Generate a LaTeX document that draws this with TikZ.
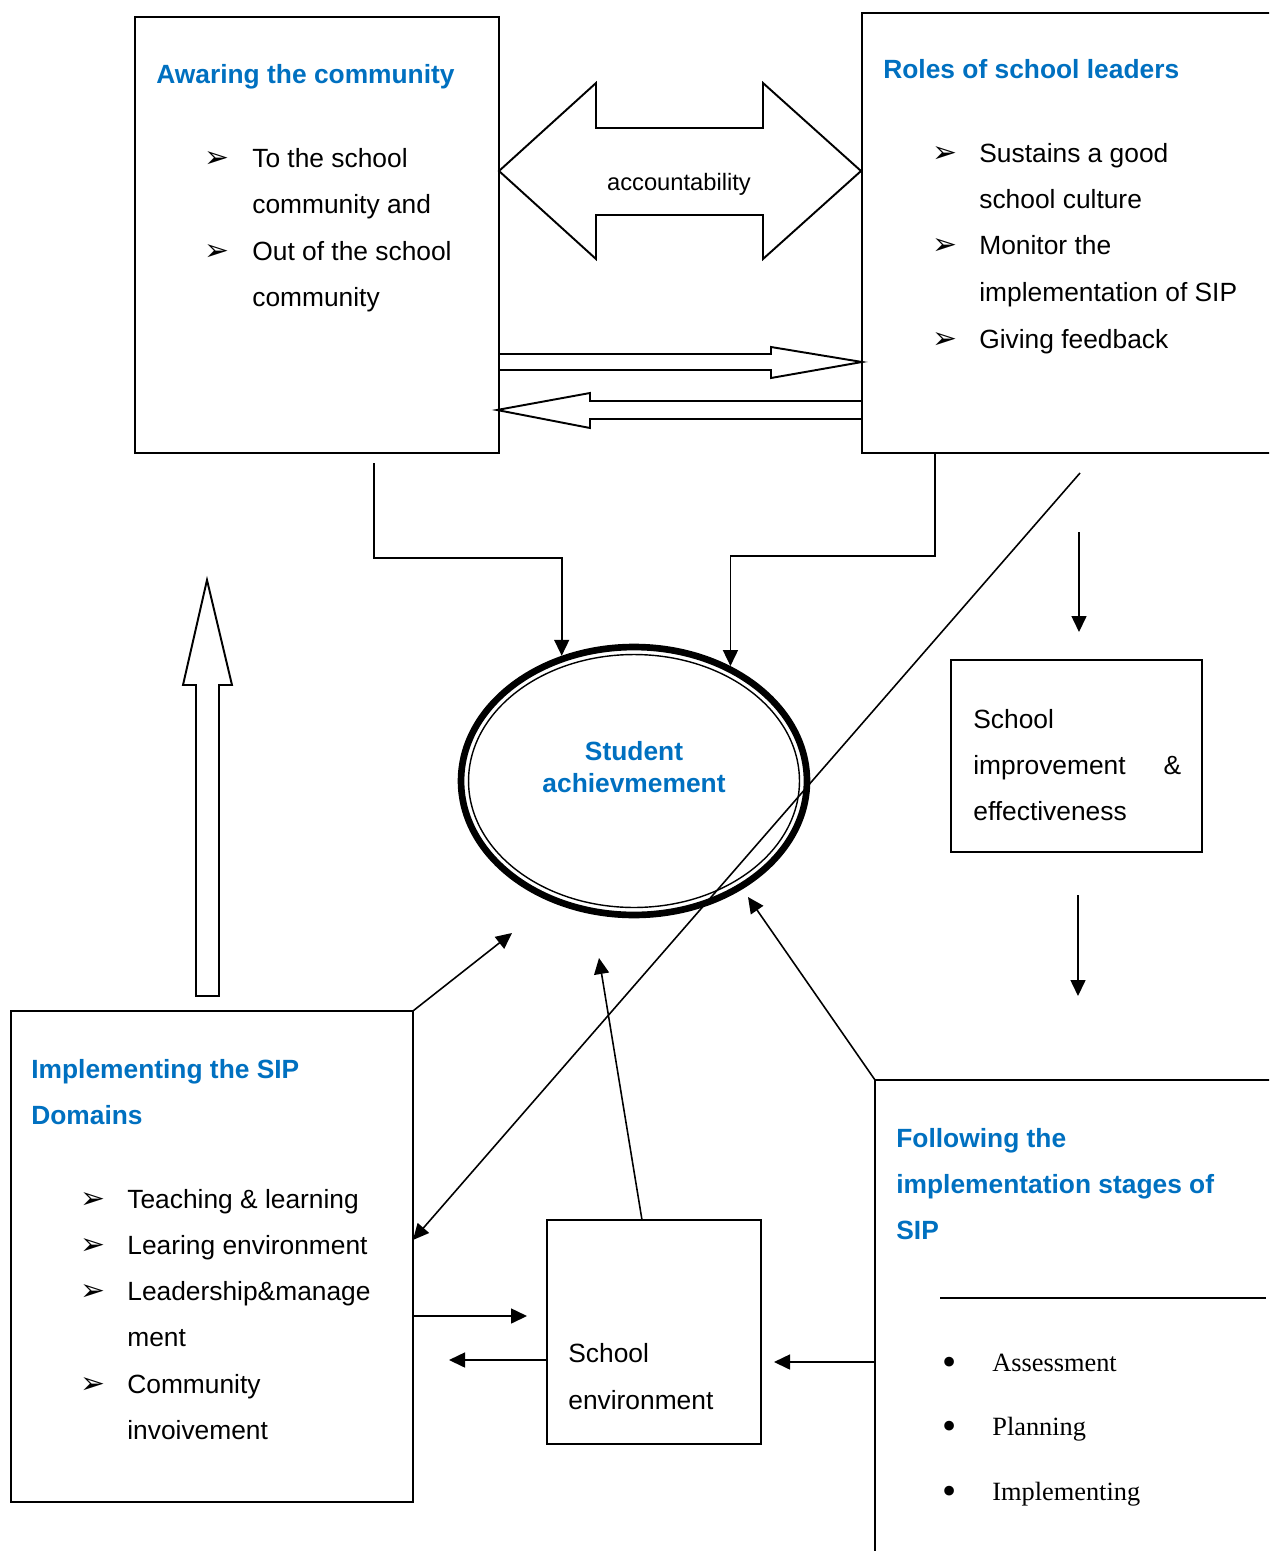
\documentclass[tikz,border=0pt]{standalone}
\usepackage{fontspec}
\setmainfont{Liberation Sans}
\newfontfamily\serifft{Liberation Serif}
\newfontfamily\symft{DejaVu Sans}
\usetikzlibrary{arrows.meta,shapes.geometric,calc}
\definecolor{sipblue}{RGB}{0,112,192}

\begin{document}
\begin{tikzpicture}[x=0.02cm,y=-0.02cm,
  box/.style={draw,line width=1.1pt,anchor=north west,inner sep=0pt,outer sep=0pt},
  txt/.style={anchor=base west,inner sep=0pt,font=\fontsize{15}{18}\selectfont},
  ttl/.style={txt,text=sipblue,font=\fontsize{15}{18}\selectfont\bfseries},
  bul/.style={anchor=base west,inner sep=0pt,font=\symft\fontsize{17}{20}\selectfont},
  dot/.style={anchor=base west,inner sep=0pt,font=\serifft\fontsize{15}{18}\selectfont},
  bigdot/.style={anchor=base west,inner sep=0pt,font=\serifft\fontsize{23}{26}\selectfont},
  arr/.style={line width=0.9pt,-{Triangle[length=0.32cm,width=0.3cm]}},
  blk/.style={line width=1.1pt,line join=miter}]
\useasboundingbox (0,0) rectangle (1269,1551);
\clip (0,0) rectangle (1269,1551);

% boxes
\node[box,minimum width=7.28cm,minimum height=8.72cm] (aware) at (135,17) {};
\node[box,minimum width=8.56cm,minimum height=8.8cm] (lead) at (862,13) {};
\node[box,minimum width=5.02cm,minimum height=3.84cm] (effect) at (951,660) {};
\node[box,minimum width=8.04cm,minimum height=9.82cm] (impl) at (11,1011) {};
\node[box,minimum width=4.28cm,minimum height=4.48cm] (env) at (547,1220) {};
\node[box,minimum width=8.3cm,minimum height=10cm] (stages) at (875,1080) {};

% student achievement
\node[ellipse,draw,line width=3.8pt,minimum width=6.92cm,minimum height=5.36cm,inner sep=0pt] (ach) at (634,781) {};
\draw[line width=0.8pt] (ach.center) ellipse [x radius=3.31cm,y radius=2.53cm];
\node[align=center,text=sipblue,font=\fontsize{15}{18.2}\selectfont\bfseries,inner sep=0pt] (achtxt) at (634,767) {Student\\achievmement};

% awaring the community
\node[ttl] (atitle) at (156,84) {Awaring the community};
\node[bul] (ab1) at (204,168) {➢};
\node[txt] (a1) at (252,168) {To the school};
\node[txt] (a2) at (252,214) {community and};
\node[bul] (ab2) at (204,260) {➢};
\node[txt] (a3) at (252,260) {Out of the school};
\node[txt] (a4) at (252,306) {community};

% roles of school leaders
\node[ttl] (ltitle) at (883,79) {Roles of school leaders};
\node[bul] (lb1) at (932,163) {➢};
\node[txt] (l1) at (979,163) {Sustains a good};
\node[txt] (l2) at (979,209) {school culture};
\node[bul] (lb2) at (932,255) {➢};
\node[txt] (l3) at (979,255) {Monitor the};
\node[txt] (l4) at (979,301) {implementation of SIP};
\node[bul] (lb3) at (932,348) {➢};
\node[txt] (l5) at (979,348) {Giving feedback};

% school improvement
\node[txt] (e1) at (973,728) {School};
\node[txt] (e2) at (973,774) {\makebox[4.16cm][l]{improvement\hfill\&}};
\node[txt] (e3) at (973,820) {effectiveness};

% implementing the SIP domains
\node[ttl] (ititle1) at (31,1078) {Implementing the SIP};
\node[ttl] (ititle2) at (31,1124) {Domains};
\node[bul] (ib1) at (80,1208) {➢};
\node[txt] (i1) at (127,1208) {Teaching \& learning};
\node[bul] (ib2) at (80,1254) {➢};
\node[txt] (i2) at (127,1254) {Learing environment};
\node[bul] (ib3) at (80,1300) {➢};
\node[txt] (i3) at (127,1300) {Leadership\&manage};
\node[txt] (i4) at (127,1346) {ment};
\node[bul] (ib4) at (80,1393) {➢};
\node[txt] (i5) at (127,1393) {Community};
\node[txt] (i6) at (127,1439) {invoivement};

% school environment
\node[txt] (s1) at (568,1362) {School};
\node[txt] (s2) at (568,1409) {environment};

% implementation stages
\node[ttl] (ftitle1) at (896,1147) {Following the};
\node[ttl] (ftitle2) at (896,1193) {implementation stages of};
\node[ttl] (ftitle3) at (896,1239) {SIP};
\draw[line width=1.1pt] (940,1298) -- (1266,1298);
\node[bigdot] (fb1) at (942,1375) {•};
\node[dot] (f1) at (992,1371) {Assessment};
\node[bigdot] (fb2) at (942,1439) {•};
\node[dot] (f2) at (992,1435) {Planning};
\node[bigdot] (fb3) at (942,1504) {•};
\node[dot] (f3) at (992,1500) {Implementing};

% block arrows
\draw[blk] (499,171) -- (596,83) -- (596,128) -- (763,128) -- (763,83) -- (861,171)
  -- (763,259) -- (763,215) -- (596,215) -- (596,259) -- cycle;
\node[font=\fontsize{13.5}{16}\selectfont,inner sep=0pt] (acc) at (679,184) {accountability};
\draw[blk] (499,354) -- (771,354) -- (771,347) -- (862,362) -- (771,378) -- (771,370) -- (499,370);
\draw[blk] (861,401) -- (590,401) -- (590,393) -- (497,410) -- (590,428) -- (590,419) -- (861,419);
\draw[blk] (196,996) -- (196,685) -- (183,685) -- (207,580) -- (232,685) -- (219,685) -- (219,996) -- cycle;

% connectors
\coordinate (afoot) at (374,463);
\draw[arr] (afoot) -- ++(0,95) -| (ach.120);
\draw[arr] ($(lead.south west)+(73,0)$) -- ++(0,103) -| (ach.50);
\coordinate (diagtop) at (1080,473);
\draw[arr] (diagtop) -- ($(impl.north east)+(0,229)$);
\coordinate (d1) at (1079,532);
\coordinate (d2) at (1079,632);
\draw[arr] (d1) -- (d2);
\coordinate (d3) at (1078,895);
\coordinate (d4) at (1078,996);
\draw[arr] (d3) -- (d4);
\coordinate (tostud1) at (512,933);
\draw[arr] (impl.north east) -- (tostud1);
\coordinate (tostud2) at (599,958);
\draw[arr] ($(env.north west)+(95,0)$) -- (tostud2);
\coordinate (toenv) at (527,1316);
\draw[arr] ($(impl.north east)+(0,305)$) -- (toenv);
\coordinate (toimpl) at (449,1360);
\draw[arr] ($(env.north west)+(0,140)$) -- (toimpl);
\coordinate (tostud3) at (748,897);
\draw[arr] (stages.north west) -- (tostud3);
\coordinate (toenv2) at (774,1362);
\draw[arr] ($(stages.north west)+(0,282)$) -- (toenv2);
\end{tikzpicture}
\end{document}
